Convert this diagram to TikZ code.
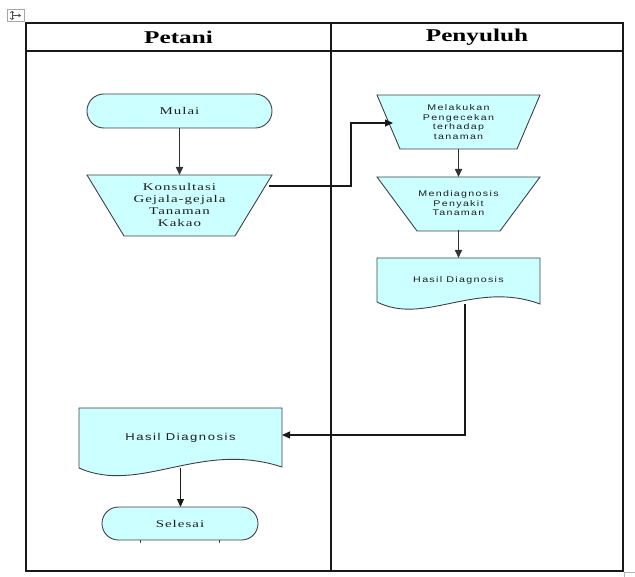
\documentclass[tikz,border=0pt]{standalone}
\usepackage{fontspec}
\usetikzlibrary{arrows.meta,calc,backgrounds}
\setmainfont{Liberation Serif}
\newfontfamily\headfont[FakeStretch=1.4]{Liberation Serif}
\newfontfamily\serifwide[FakeStretch=1.45,LetterSpace=10]{Liberation Serif}
\newfontfamily\sanswide[FakeStretch=1.3,LetterSpace=16]{Liberation Sans}
\definecolor{flowfill}{HTML}{CCFFFF}
\definecolor{flowedge}{HTML}{404040}
\definecolor{inkgray}{HTML}{1E1E1E}
\tikzset{
  tbl/.style={line width=1.7pt, draw=black!90, line cap=rect},
  shapeline/.style={draw=flowedge, line width=0.9pt, fill=flowfill},
  arr/.style={-{Triangle[length=8pt,width=7pt]}, line width=1.1pt, draw=black!90},
  thickarr/.style={arr, line width=1.6pt, draw=black!80},
  frame/.style={inner sep=0pt, outer sep=0pt, align=center, text=inkgray},
  headtxt/.style={font=\headfont\bfseries\fontsize{18}{20}\selectfont, text=black},
  serifsmall/.style={font=\serifwide\fontsize{10.3}{12}\selectfont},
  sanssmall/.style={font=\sanswide\fontsize{8.2}{9.5}\selectfont},
  sansmid/.style={font=\sanswide\fontsize{10}{11}\selectfont},
}
\begin{document}
\begin{tikzpicture}[x=1pt,y=-1pt]
\useasboundingbox (0,0) rectangle (635,577);

% swimlane table
\draw[tbl] (26,23) rectangle (623,571);
\draw[tbl] (26,51) -- (623,51);
\draw[tbl] (331,23) -- (331,571);
\node[headtxt] (hpetani) at (178.5,37) {Petani};
\node[headtxt] (hpenyuluh) at (477,37) {Penyuluh};

% table move handle and resize mark
\draw[gray!70, fill=white, line width=0.6pt] (7.5,9.5) rectangle (24.5,21.5);
\draw[black!70, line width=0.7pt] (12,11.5) -- (12,19.5);
\draw[black!70, line width=0.7pt] (10,13) -- (12,11.5) -- (14,13);
\draw[black!70, line width=0.7pt] (10,18) -- (12,19.5) -- (14,18);
\draw[black!70, line width=0.7pt] (12,15.5) -- (20,15.5);
\draw[black!70, line width=0.7pt] (18.5,14) -- (20.5,15.5) -- (18.5,17);
\draw[gray!60, line width=0.8pt] (624.5,577) -- (624.5,572.5) -- (635,572.5);

% step frames with their texts
\node[frame, serifsmall, minimum width=185pt, minimum height=34pt] (mulai) at (179.5,111) {Mulai};
\node[frame, serifsmall, minimum width=185pt, minimum height=60pt] (konsul) at (179.5,205)
  {Konsultasi\\Gejala-gejala\\Tanaman\\Kakao};
\node[frame, sanssmall, minimum width=163pt, minimum height=54pt] (melak) at (458.5,122)
  {Melakukan\\Pengecekan\\terhadap\\tanaman};
\node[frame, sanssmall, minimum width=163pt, minimum height=53pt] (mendi) at (458.5,203.5)
  {Mendiagnosis\\Penyakit\\Tanaman};
\node[frame, sanssmall, minimum width=163pt, minimum height=44pt] (hasilR) at (458.5,280)
  {Hasil Diagnosis};
\node[frame, sansmid, minimum width=203pt, minimum height=60pt] (hasilL) at (180.5,438)
  {Hasil Diagnosis};
\node[frame, serifsmall, minimum width=156pt, minimum height=33pt] (selesai) at (180,523.5)
  {Selesai};

% step outlines
\begin{scope}[on background layer]
  \draw[shapeline, rounded corners=16.9pt] (87,94) rectangle (272,128);
  \draw[shapeline] (87,175) -- (272,175) -- (235,236) -- (124,236) -- cycle;
  \draw[shapeline] (377,95) -- (540,95) -- (517,149) -- (400,149) -- cycle;
  \draw[shapeline] (377,177) -- (540,177) -- (500,231) -- (417,231) -- cycle;
  \draw[shapeline] (377,258) -- (540,258) -- (540,304)
     .. controls (475,280) and (425,326) .. (377,302) -- cycle;
  \draw[shapeline] (79,408) -- (282,408) -- (282,467)
     .. controls (200,440) and (140,495) .. (79,468) -- cycle;
  \draw[shapeline, rounded corners=16.4pt] (102,507) rectangle (258,540);
  \draw[flowedge, line width=0.7pt] (140,540) -- (140,543) (219,540) -- (219,543);
\end{scope}

% connectors
\coordinate (kout) at (269,186);
\coordinate (bendA) at (351,123);
\coordinate (min) at (393,123);
\coordinate (rout) at (465,304);
\coordinate (lin) at (282,435);
\draw[thickarr] (mulai) -- (konsul);
\draw[arr] (kout) -| (bendA) -- (min);
\draw[thickarr] (melak) -- (mendi);
\draw[thickarr] (mendi) -- (hasilR);
\draw[arr] (rout) |- (lin);
\draw[arr] (hasilL.south) -- (hasilL.south |- selesai.north);
\end{tikzpicture}
\end{document}
